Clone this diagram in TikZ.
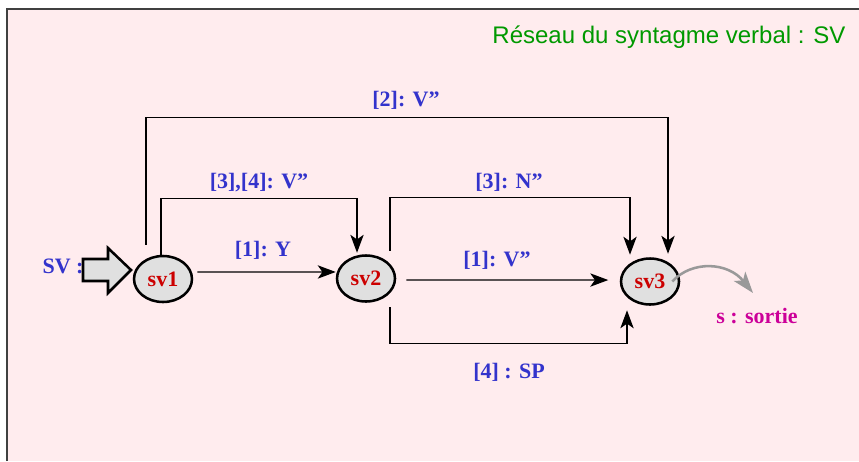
\documentclass[tikz,border=0pt]{standalone}
\usepackage{fontspec}
\setmainfont{Liberation Serif}
\newfontfamily\titrefont{Liberation Sans}
\usetikzlibrary{arrows.meta,shapes.geometric}

\definecolor{fondrose}{RGB}{255,236,238}
\definecolor{grisnoeud}{RGB}{224,224,224}
\definecolor{rougeetat}{RGB}{204,0,0}
\definecolor{bleuetiq}{RGB}{51,51,204}
\definecolor{vertitre}{RGB}{0,153,0}
\definecolor{magsortie}{RGB}{204,0,153}
\definecolor{grissortie}{RGB}{153,153,153}

\begin{document}
\begin{tikzpicture}[
        x=0.75pt, y=-0.75pt,
        etat/.style={
          ellipse,
          draw,
          line width=1.9pt,
          fill=grisnoeud,
          minimum width=43.5pt,
          minimum height=34.5pt,
          inner sep=0pt,
          text=rougeetat,
          font=\fontsize{16.5}{19}\selectfont\bfseries
        },
        etiq/.style={
          text=bleuetiq,
          inner sep=0pt,
          font=\fontsize{16.5}{19}\selectfont\bfseries
        },
        lien/.style={
          -{Stealth[length=13.5pt,width=10pt,inset=3.5pt]},
          line width=1pt
        }
      ]
      \useasboundingbox (0,0) rectangle (859,461);
      \fill[fondrose] (7,9) rectangle (859,461);
      \draw[line width=1.2pt, black!75] (7,461) -- (7,9) -- (859,9);

      \node[text=vertitre, inner sep=0pt, font=\titrefont\fontsize{18}{22}\selectfont]
        (titre) at (669,37) {Réseau du syntagme verbal : SV};

      % entree du reseau
      \node[etiq] (entree) at (63,266) {SV :};
      \filldraw[fill=grisnoeud, line width=1.9pt, line join=miter]
        (83,259) -- (108,259) -- (108,248) -- (131,270)
        -- (108,293) -- (108,281) -- (83,281) -- cycle;

      \node[etat] (sv1) at (163,279) {sv1};
      \node[etat] (sv2) at (366,278.5) {sv2};
      \node[etat] (sv3) at (650,281.5) {sv3};

      \draw[lien] ([xshift=3pt,yshift=5.25pt]sv1.east) -- ([yshift=4.9pt]sv2.west);
      \draw[lien] ([xshift=-1.5pt]sv1.north) -- ++(0,-56)
        -| ([xshift=-6.75pt,yshift=1.1pt]sv2.north);
      \draw[lien] ([xshift=-12.75pt,yshift=7.5pt]sv1.north) -- ++(0,-127)
        -| ([xshift=13.5pt,yshift=2.6pt]sv3.north);
      \draw[lien] ([xshift=18pt,yshift=2.6pt]sv2.north) -- ++(0,-53)
        -| ([xshift=-15pt,yshift=1.9pt]sv3.north);
      \draw[lien] ([xshift=7.5pt,yshift=-1.1pt]sv2.east) -- ([xshift=-8.6pt,yshift=1.1pt]sv3.west);
      \draw[lien] ([xshift=18pt,yshift=-3.4pt]sv2.south) -- ++(0,36)
        -| ([xshift=-17.25pt,yshift=-3.4pt]sv3.south);

      \node[etiq] (e2) at (406,100) {[2]: V''};
      \node[etiq] (e34) at (259,183) {[3],[4]: V''};
      \node[etiq] (e1y) at (263,250) {[1]: Y};
      \node[etiq] (e3) at (509,182) {[3]: N''};
      \node[etiq] (e1v) at (497,260) {[1]: V''};
      \node[etiq] (e4) at (509,372) {[4] : SP};

      % sortie
      \coordinate (fin) at (753,293);
      \draw[grissortie, line width=1.9pt, -{Stealth[length=16pt,width=11pt,inset=4pt]}]
        ([xshift=-6pt]sv3.east) .. controls (692,260) and (728,262) .. (fin);
      \node[etiq, text=magsortie] (sortie) at (757,316) {s : sortie};
    \end{tikzpicture}
\end{document}
